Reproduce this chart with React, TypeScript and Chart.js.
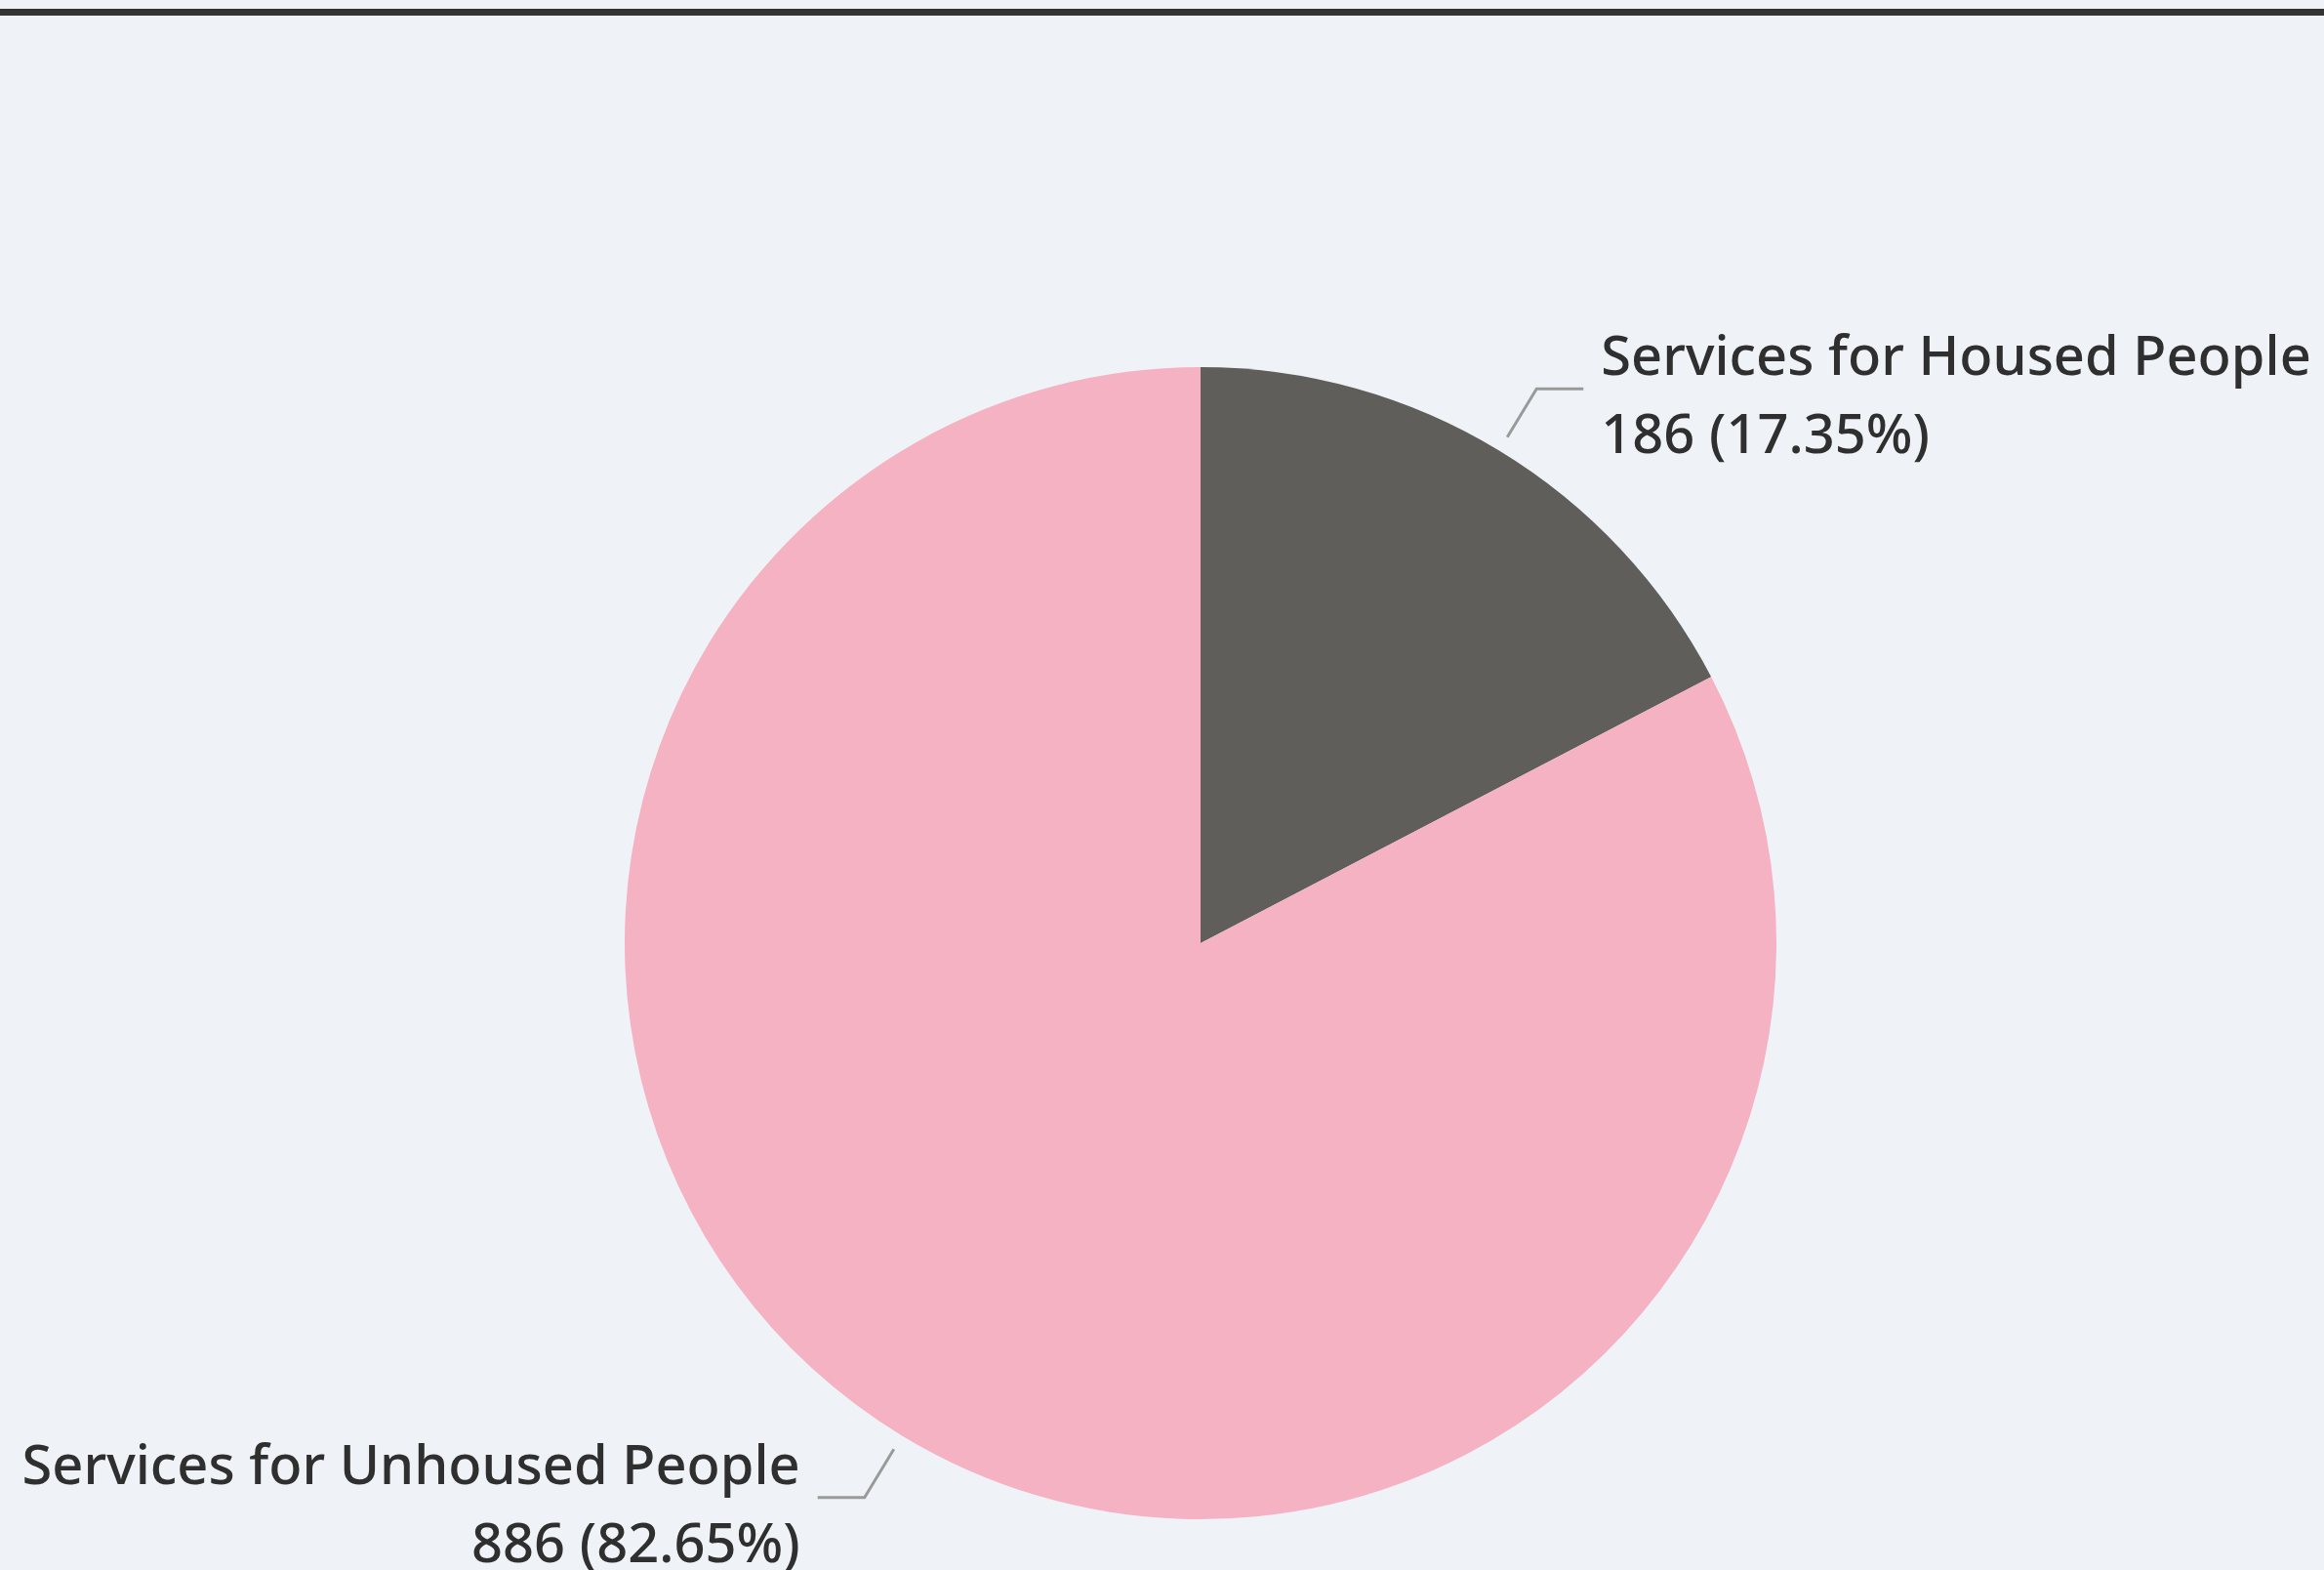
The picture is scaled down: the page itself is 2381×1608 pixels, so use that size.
import React, { useEffect, useRef } from "react";
import { Chart, registerables } from "chart.js";

Chart.register(...registerables);

const categories = ["Services for Housed People", "Services for Unhoused People"];
const values = [186, 886];
const sliceColors = ["#5f5e5b", "#f5b2c3"];

const W = 2381;
const H = 1608;
const FONT = '"Noto Sans", "Open Sans", sans-serif';
const FONT_SIZE = 56;
const LINE_GAP = 80;

const bgPlugin = {
  id: "bgPlugin",
  beforeDraw(chart: any) {
    const ctx = chart.ctx;
    ctx.save();
    ctx.fillStyle = "#eff3f8";
    ctx.fillRect(0, 0, chart.width, chart.height);
    ctx.fillStyle = "#333333";
    ctx.fillRect(0, 9, chart.width, 7);
    ctx.restore();
  },
};

const labelPlugin = {
  id: "labelPlugin",
  afterDraw(chart: any) {
    const ctx = chart.ctx;
    const meta = chart.getDatasetMeta(0);
    const data = chart.data.datasets[0].data as number[];
    const total = data.reduce((a, b) => a + b, 0);
    ctx.save();
    meta.data.forEach((arc: any, i: number) => {
      const { x, y, startAngle, endAngle, outerRadius } = arc.getProps(
        ["x", "y", "startAngle", "endAngle", "outerRadius"],
        true
      );
      const mid = (startAngle + endAngle) / 2;
      const cx = Math.cos(mid);
      const cy = Math.sin(mid);
      const p1x = x + (outerRadius + 16) * cx;
      const p1y = y + (outerRadius + 16) * cy;
      const p2x = x + (outerRadius + 74) * cx;
      const p2y = y + (outerRadius + 74) * cy;
      const right = cx >= 0;
      const p3x = p2x + (right ? 48 : -48);
      ctx.strokeStyle = "#9a9a9a";
      ctx.lineWidth = 3;
      ctx.beginPath();
      ctx.moveTo(p1x, p1y);
      ctx.lineTo(p2x, p2y);
      ctx.lineTo(p3x, p2y);
      ctx.stroke();

      const pct = ((data[i] / total) * 100).toFixed(2);
      const lines = [String(chart.data.labels[i]), `${data[i]} (${pct}%)`];
      ctx.font = `500 ${FONT_SIZE}px ${FONT}`;
      ctx.fillStyle = "#2f2f2f";
      ctx.textBaseline = "middle";
      ctx.textAlign = right ? "left" : "right";
      const tx = p3x + (right ? 18 : -18);
      const startY = p2y + 10 - ((lines.length - 1) * LINE_GAP) / 2;
      lines.forEach((t, k) => ctx.fillText(t, tx, startY + k * LINE_GAP));
    });
    ctx.restore();
  },
};

export default function App() {
  const ref = useRef<HTMLCanvasElement | null>(null);
  useEffect(() => {
    document.body.style.margin = "0";
    const chart = new Chart(ref.current as HTMLCanvasElement, {
      type: "pie",
      data: {
        labels: categories,
        datasets: [
          {
            data: values,
            backgroundColor: sliceColors,
            borderWidth: 0,
            hoverOffset: 0,
          },
        ],
      },
      options: {
        animation: false,
        responsive: false,
        maintainAspectRatio: false,
        layout: { padding: { top: 376, bottom: 52, left: 640, right: 561 } },
        plugins: {
          legend: { display: false },
          tooltip: { enabled: false },
          title: { display: false },
        },
      },
      plugins: [bgPlugin, labelPlugin],
    });
    return () => chart.destroy();
  }, []);
  return (
    <div style={{ position: "fixed", left: 0, top: 0, width: W, height: H }}>
      <canvas ref={ref} width={W} height={H} style={{ width: W, height: H, display: "block" }} />
    </div>
  );
}
